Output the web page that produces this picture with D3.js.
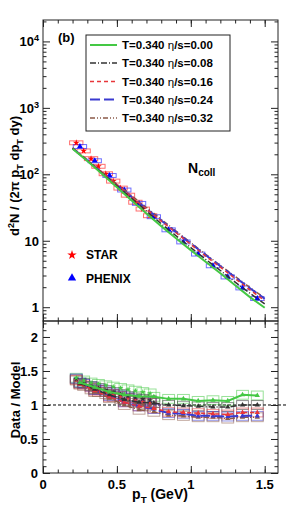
<!DOCTYPE html>
<html>
<head>
<meta charset="utf-8">
<script src="https://cdn.jsdelivr.net/npm/d3@7"></script>
<style>
body { margin: 0; background: #fff; }
text { font-family: "Liberation Sans", Arial, Helvetica, sans-serif; font-weight: bold; fill: #000; }
</style>
</head>
<body>
<div id="main"></div>
<script>
const cte = {
    w: 291,
    h: 511,
    left: 43,
    right: 278,
    top: 20,
    mid: 321,
    bottom: 473,
};

// model grid and curves (top panel)
const pTModel = [0.2, 0.3, 0.4, 0.5, 0.6, 0.7, 0.8, 0.9, 1.0, 1.1, 1.2, 1.3, 1.4, 1.5];
const modelLabels = ["0.00", "0.08", "0.16", "0.24", "0.32"];
const modelEta000 = [243, 158, 101, 63.8, 40.3, 25.7, 16.6, 10.9, 7.23, 4.83, 3.25, 2.14, 1.42, 0.98];
const modelEta008 = [245, 160, 104, 67, 43.4, 28, 18.0, 11.9, 7.9, 5.26, 3.57, 2.39, 1.62, 1.12];
const modelEta016 = [248, 162, 106, 69.2, 45.6, 30.0, 19.8, 13.2, 8.79, 5.88, 4.0, 2.69, 1.82, 1.26];
const modelEta024 = [247, 161, 106, 68.9, 45.6, 30.2, 20.2, 13.5, 9.08, 6.12, 4.14, 2.82, 1.93, 1.34];
const modelEta032 = [250, 165, 108, 71.2, 47.7, 31.7, 21.0, 14.0, 9.36, 6.27, 4.27, 2.91, 1.98, 1.37];

// data
const pTPhenix = [0.25, 0.35, 0.45, 0.55, 0.65, 0.75, 0.85, 0.95, 1.05, 1.15, 1.25, 1.35, 1.45];
const phenixYield = [262, 160, 96, 58, 36.5, 23, 14.6, 9.6, 6.3, 4.2, 2.85, 1.95, 1.35];
const pTStar = [0.225, 0.275, 0.325, 0.375, 0.425, 0.475, 0.525, 0.575, 0.625, 0.675, 0.725];
const starYield = [298, 225, 172, 132, 102, 79, 62, 48.5, 38, 30, 23.8];

// data / model ratios (bottom panel)
const ratioPhenix000 = [1.33, 1.26, 1.19, 1.15, 1.13, 1.12, 1.09, 1.09, 1.06, 1.07, 1.06, 1.15, 1.14];
const ratioPhenix008 = [1.32, 1.23, 1.15, 1.08, 1.04, 1.03, 1.00, 0.99, 0.98, 0.97, 0.97, 1.00, 1.00];
const ratioPhenix016 = [1.31, 1.21, 1.12, 1.04, 0.98, 0.95, 0.90, 0.89, 0.88, 0.87, 0.86, 0.89, 0.89];
const ratioPhenix024 = [1.33, 1.22, 1.13, 1.04, 0.98, 0.94, 0.88, 0.87, 0.84, 0.84, 0.83, 0.84, 0.84];
const ratioPhenix032 = [1.30, 1.19, 1.10, 1.00, 0.93, 0.90, 0.85, 0.84, 0.82, 0.82, 0.80, 0.82, 0.82];
const ratioStar000 = [1.40, 1.36, 1.33, 1.31, 1.29, 1.27, 1.25, 1.23, 1.21, 1.19, 1.17];
const ratioStar008 = [1.38, 1.32, 1.28, 1.25, 1.22, 1.19, 1.16, 1.13, 1.11, 1.09, 1.07];
const ratioStar016 = [1.37, 1.30, 1.26, 1.22, 1.19, 1.16, 1.13, 1.10, 1.07, 1.05, 1.03];
const ratioStar024 = [1.39, 1.31, 1.27, 1.23, 1.20, 1.17, 1.14, 1.11, 1.08, 1.06, 1.04];
const ratioStar032 = [1.36, 1.28, 1.23, 1.19, 1.16, 1.12, 1.09, 1.06, 1.03, 1.01, 0.99];

const logTicks = [1, 10, 100, 1000, 10000];
const xTicks = [0, 0.5, 1, 1.5];
const ratioTicks = [0, 0.5, 1, 1.5, 2];

// styles
const modelColors = ["#44c844", "#333333", "#e8363a", "#3a3ad0", "#8a5a48"];
const modelDash = [null, "6,2,1,2", "4,3", "10,4", "5,2,1,2,1,2"];
const modelWidth = [2, 1.5, 1.5, 2, 1.5];

const models = [modelEta000, modelEta008, modelEta016, modelEta024, modelEta032];
const ratiosPhenix = [ratioPhenix000, ratioPhenix008, ratioPhenix016, ratioPhenix024, ratioPhenix032];
const ratiosStar = [ratioStar000, ratioStar008, ratioStar016, ratioStar024, ratioStar032];

const xScale = d3.scaleLinear().domain([0, 1.59]).range([cte.left, cte.right]);
const yTop = d3.scaleLog().domain([0.62, 2.1e4]).range([cte.mid, cte.top]);
const yBot = d3.scaleLinear().domain([0, 2.235]).range([cte.bottom, cte.mid]);

const svg = d3.select("#main").append("svg")
    .attr("width", cte.w)
    .attr("height", cte.h);

svg.append("rect").attr("width", cte.w).attr("height", cte.h).attr("fill", "#fff");

// writes text with sub/superscripts: parts = [[string, 0|1|-1]]
function richText(sel, parts, size) {
    let shift = 0;
    parts.forEach(([s, k]) => {
        const target = k === 1 ? -size * 0.4 : (k === -1 ? size * 0.3 : 0);
        sel.append("tspan")
            .attr("dy", target - shift)
            .style("font-size", (k === 0 ? size : size * 0.7) + "px")
            .text(s);
        shift = target;
    });
}

function minorLog() {
    const out = [];
    [0.1, 1, 10, 100, 1000, 10000].forEach(d => {
        for (let k = 2; k <= 9; k++) {
            const v = d * k;
            if (v > 0.62 && v < 2.1e4) out.push(v);
        }
    });
    return out;
}

function drawAxes() {
    const xMinor = d3.range(0, 1.59, 0.1);
    const ratioMinor = d3.range(0, 2.23, 0.1);

    const ax = [];
    // top panel
    ax.push([d3.axisTop(xScale).tickValues(xTicks).tickSize(-7), `translate(0,${cte.top})`]);
    ax.push([d3.axisTop(xScale).tickValues(xMinor).tickSize(-3.5), `translate(0,${cte.top})`]);
    ax.push([d3.axisBottom(xScale).tickValues(xTicks).tickSize(-7), `translate(0,${cte.mid})`]);
    ax.push([d3.axisBottom(xScale).tickValues(xMinor).tickSize(-3.5), `translate(0,${cte.mid})`]);
    ax.push([d3.axisLeft(yTop).tickValues(logTicks).tickSize(-7), `translate(${cte.left},0)`]);
    ax.push([d3.axisLeft(yTop).tickValues(minorLog()).tickSize(-3.5), `translate(${cte.left},0)`]);
    ax.push([d3.axisRight(yTop).tickValues(logTicks).tickSize(-7), `translate(${cte.right},0)`]);
    ax.push([d3.axisRight(yTop).tickValues(minorLog()).tickSize(-3.5), `translate(${cte.right},0)`]);
    // bottom panel
    ax.push([d3.axisTop(xScale).tickValues(xTicks).tickSize(-7), `translate(0,${cte.mid})`]);
    ax.push([d3.axisTop(xScale).tickValues(xMinor).tickSize(-3.5), `translate(0,${cte.mid})`]);
    ax.push([d3.axisBottom(xScale).tickValues(xTicks).tickSize(-7), `translate(0,${cte.bottom})`]);
    ax.push([d3.axisBottom(xScale).tickValues(xMinor).tickSize(-3.5), `translate(0,${cte.bottom})`]);
    ax.push([d3.axisLeft(yBot).tickValues(ratioTicks).tickSize(-7), `translate(${cte.left},0)`]);
    ax.push([d3.axisLeft(yBot).tickValues(ratioMinor).tickSize(-3.5), `translate(${cte.left},0)`]);
    ax.push([d3.axisRight(yBot).tickValues(ratioTicks).tickSize(-7), `translate(${cte.right},0)`]);
    ax.push([d3.axisRight(yBot).tickValues(ratioMinor).tickSize(-3.5), `translate(${cte.right},0)`]);

    ax.forEach(([a, t]) => {
        const g = svg.append("g").attr("transform", t).call(a.tickFormat(""));
        g.select(".domain").remove();
        g.selectAll("line").attr("stroke", "#222").attr("stroke-width", 1);
    });

    svg.append("rect")
        .attr("x", cte.left).attr("y", cte.top)
        .attr("width", cte.right - cte.left).attr("height", cte.mid - cte.top)
        .attr("fill", "none").attr("stroke", "#222").attr("stroke-width", 1);
    svg.append("rect")
        .attr("x", cte.left).attr("y", cte.mid)
        .attr("width", cte.right - cte.left).attr("height", cte.bottom - cte.mid)
        .attr("fill", "none").attr("stroke", "#222").attr("stroke-width", 1);

    // tick labels
    logTicks.forEach(v => {
        const t = svg.append("text")
            .attr("x", 39).attr("y", yTop(v) + 5)
            .attr("text-anchor", "end")
            .style("font-size", "13px");
        const p = Math.round(Math.log10(v));
        if (p < 2) t.text(String(v));
        else richText(t, [["10", 0], [String(p), 1]], 13);
    });
    ratioTicks.forEach(v => {
        svg.append("text")
            .attr("x", 38).attr("y", yBot(v) + 5)
            .attr("text-anchor", "end")
            .style("font-size", "13px")
            .text(String(v));
    });
    xTicks.forEach(v => {
        svg.append("text")
            .attr("x", xScale(v)).attr("y", 489)
            .attr("text-anchor", "middle")
            .style("font-size", "13px")
            .text(String(v));
    });

    // axis titles
    const yt = svg.append("text")
        .attr("transform", "translate(19,176) rotate(-90)")
        .attr("text-anchor", "middle")
        .style("font-size", "13px");
    richText(yt, [["d", 0], ["2", 1], ["N / (2π p", 0], ["T", -1], [" dp", 0], ["T", -1], [" dy)", 0]], 13);

    svg.append("text")
        .attr("transform", "translate(20,400) rotate(-90)")
        .attr("text-anchor", "middle")
        .style("font-size", "13px")
        .text("Data / Model");

    const xt = svg.append("text")
        .attr("x", 160).attr("y", 499)
        .attr("text-anchor", "middle")
        .style("font-size", "14px");
    richText(xt, [["p", 0], ["T", -1], [" (GeV)", 0]], 14);
}

function drawTop() {
    const boxes = (xs, ys, color) => {
        svg.append("g").selectAll("rect")
            .data(xs.map((x, i) => ({ x, y: ys[i] })))
            .enter().append("rect")
            .attr("x", d => xScale(d.x - 0.045))
            .attr("width", d => xScale(d.x + 0.045) - xScale(d.x - 0.045))
            .attr("y", d => yTop(d.y * 1.07))
            .attr("height", d => yTop(d.y / 1.07) - yTop(d.y * 1.07))
            .attr("fill", "none")
            .attr("stroke", color)
            .attr("stroke-opacity", 0.7)
            .attr("stroke-width", 1);
    };
    boxes(pTStar, starYield, "#ff3030");
    boxes(pTPhenix, phenixYield, "#3030ff");

    svg.append("g").selectAll("path")
        .data(pTStar.map((x, i) => ({ x, y: starYield[i] })))
        .enter().append("path")
        .attr("transform", d => `translate(${xScale(d.x)},${yTop(d.y)})`)
        .attr("d", d3.symbol(d3.symbolStar, 14))
        .attr("fill", "#ff0000");
    svg.append("g").selectAll("path")
        .data(pTPhenix.map((x, i) => ({ x, y: phenixYield[i] })))
        .enter().append("path")
        .attr("transform", d => `translate(${xScale(d.x)},${yTop(d.y)})`)
        .attr("d", d3.symbol(d3.symbolTriangle, 16))
        .attr("fill", "#0000ff");

    const line = d3.line()
        .x((d, i) => xScale(pTModel[i]))
        .y(d => yTop(d));
    [4, 3, 2, 1, 0].forEach(m => {
        svg.append("path")
            .datum(models[m])
            .attr("d", line)
            .attr("fill", "none")
            .attr("stroke", modelColors[m])
            .attr("stroke-width", modelWidth[m])
            .attr("stroke-dasharray", modelDash[m]);
    });
}

function drawBottom() {
    svg.append("line")
        .attr("x1", xScale(0)).attr("x2", xScale(1.65))
        .attr("y1", yBot(1)).attr("y2", yBot(1))
        .attr("stroke", "#000").attr("stroke-width", 1)
        .attr("stroke-dasharray", "3,2");

    const ratioBoxes = (xs, ys, color) => {
        svg.append("g").selectAll("rect")
            .data(xs.map((x, i) => ({ x, y: ys[i] })))
            .enter().append("rect")
            .attr("x", d => xScale(d.x - 0.04))
            .attr("width", d => xScale(d.x + 0.04) - xScale(d.x - 0.04))
            .attr("y", d => yBot(d.y + 0.065))
            .attr("height", d => yBot(d.y - 0.065) - yBot(d.y + 0.065))
            .attr("fill", "none")
            .attr("stroke", color)
            .attr("stroke-opacity", 0.55)
            .attr("stroke-width", 1);
    };
    [0, 1, 2, 3, 4].forEach(m => {
        ratioBoxes(pTStar, ratiosStar[m], modelColors[m]);
        ratioBoxes(pTPhenix, ratiosPhenix[m], modelColors[m]);
    });

    const line = d3.line()
        .x((d, i) => xScale(pTPhenix[i]))
        .y(d => yBot(d));
    [4, 3, 2, 1, 0].forEach(m => {
        svg.append("path")
            .datum(ratiosPhenix[m])
            .attr("d", line)
            .attr("fill", "none")
            .attr("stroke", modelColors[m])
            .attr("stroke-width", modelWidth[m])
            .attr("stroke-dasharray", modelDash[m]);
        svg.append("g").selectAll("path")
            .data(ratiosPhenix[m].map((y, i) => ({ x: pTPhenix[i], y })))
            .enter().append("path")
            .attr("transform", d => `translate(${xScale(d.x)},${yBot(d.y)})`)
            .attr("d", d3.symbol(d3.symbolTriangle, 12))
            .attr("fill", modelColors[m]);
        svg.append("g").selectAll("path")
            .data(ratiosStar[m].map((y, i) => ({ x: pTStar[i], y })))
            .enter().append("path")
            .attr("transform", d => `translate(${xScale(d.x)},${yBot(d.y)})`)
            .attr("d", d3.symbol(d3.symbolStar, 10))
            .attr("fill", modelColors[m]);
    });
}

function drawLegends() {
    svg.append("rect")
        .attr("x", 86).attr("y", 35)
        .attr("width", 144).attr("height", 96)
        .attr("fill", "#fff").attr("stroke", "#222").attr("stroke-width", 1);
    const rowY = [45, 63, 81.5, 99.5, 118];
    modelLabels.forEach((lab, m) => {
        svg.append("line")
            .attr("x1", 90).attr("x2", 117)
            .attr("y1", rowY[m]).attr("y2", rowY[m])
            .attr("stroke", modelColors[m])
            .attr("stroke-width", modelWidth[m])
            .attr("stroke-dasharray", modelDash[m]);
        const t = svg.append("text")
            .attr("x", 122).attr("y", rowY[m] + 4)
            .style("font-size", "11.5px");
        t.append("tspan").text("T=0.340 ");
        t.append("tspan").style("font-weight", "normal").text("η");
        t.append("tspan").text("/s=" + lab);
    });

    svg.append("text").attr("x", 58).attr("y", 42).style("font-size", "13px").text("(b)");

    const n = svg.append("text").attr("x", 188).attr("y", 173).style("font-size", "14px");
    n.append("tspan").text("N");
    n.append("tspan").attr("dy", 3).style("font-size", "10px").text("coll");

    svg.append("path")
        .attr("transform", "translate(72,255)")
        .attr("d", d3.symbol(d3.symbolStar, 28))
        .attr("fill", "#ff0000");
    svg.append("text").attr("x", 86).attr("y", 259).style("font-size", "12px").text("STAR");
    svg.append("path")
        .attr("transform", "translate(72,278)")
        .attr("d", d3.symbol(d3.symbolTriangle, 30))
        .attr("fill", "#0000ff");
    svg.append("text").attr("x", 86).attr("y", 283).style("font-size", "12px").text("PHENIX");
}

drawTop();
drawBottom();
drawAxes();
drawLegends();
</script>
</body>
</html>
